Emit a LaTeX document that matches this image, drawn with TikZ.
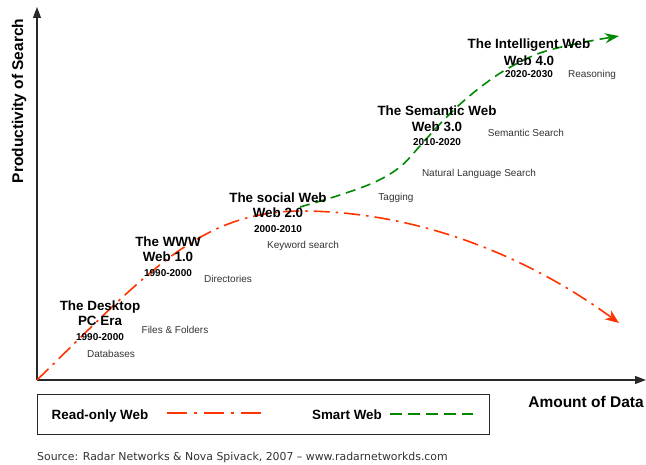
\documentclass[tikz,border=0pt]{standalone}
\usepackage{fontspec}
\setmainfont{Liberation Sans}
\newfontfamily\sourcefont{DejaVu Sans}
\usetikzlibrary{arrows.meta}
\definecolor{webred}{RGB}{255,51,0}
\definecolor{webgreen}{RGB}{0,136,0}
\definecolor{axisgray}{RGB}{40,40,40}
\begin{document}
\begin{tikzpicture}[x=1pt,y=-1pt,
                every node/.style={inner sep=0pt},
                era/.style={anchor=base,font=\fontsize{13.4}{15}\selectfont\bfseries},
                years/.style={anchor=base,font=\fontsize{10}{11}\selectfont\bfseries},
                tool/.style={anchor=base,text=black!80,font=\fontsize{10}{11}\selectfont},
                axislabel/.style={font=\fontsize{15.5}{17}\selectfont\bfseries},
                readonly/.style={webred,line width=1.6pt,dash pattern=on 16pt off 6pt on 2.5pt off 6pt},
                smart/.style={webgreen,line width=1.6pt,dash pattern=on 10pt off 6pt}]
                \useasboundingbox (0,0) rectangle (646,465);
                \coordinate (origin) at (37,380);
                \coordinate (ytip) at (37,7);
                \coordinate (xtip) at (646,380);
                \draw[axisgray,line width=1.1pt,-{Triangle[length=11pt,width=8pt]}] (origin) -- (ytip);
                \draw[axisgray,line width=1.1pt,-{Triangle[length=11pt,width=8pt]}] (origin) -- (xtip);
                \node[axislabel,rotate=90] (yl) at (19,101) {Productivity of Search};
                \node[axislabel] (xl) at (586,402) {Amount of Data};
                \coordinate (peak) at (300,211);
                \coordinate (rend) at (619,323);
                \draw[readonly,-{Stealth[length=14pt,width=11pt]}] (origin)
                    .. controls (150,270) and (200,212) .. (peak)
                    .. controls (420,211) and (530,258) .. (rend);
                \draw[smart,-{Stealth[length=14pt,width=10pt]}] plot[smooth,tension=0.6] coordinates
                    {(300,207) (340,195) (375,182) (400,167) (420,146) (438,126) (458,106) (482,86) (507,69) (540,53) (580,43) (619,36)};
                \node[era] (desktop) at (100,311) {The Desktop};
                \node[era] (pcera) at (100,326) {PC Era};
                \node[years] (desktopyears) at (100,340.6) {1990-2000};
                \node[tool] (databases) at (111,357.6) {Databases};
                \node[tool] (files) at (175,333.6) {Files \& Folders};
                \node[era] (www) at (168,247) {The WWW};
                \node[era] (webone) at (168,262) {Web 1.0};
                \node[years] (wwwyears) at (168,276.6) {1990-2000};
                \node[tool] (directories) at (228,282.6) {Directories};
                \node[era] (social) at (278,203) {The social Web};
                \node[era] (webtwo) at (278,218) {Web 2.0};
                \node[years] (socialyears) at (278,232.6) {2000-2010};
                \node[tool] (keyword) at (303,248.6) {Keyword search};
                \node[tool] (tagging) at (396,200.6) {Tagging};
                \node[tool] (natural) at (479,176.6) {Natural Language Search};
                \node[era] (semantic) at (437,116) {The Semantic Web};
                \node[era] (webthree) at (437,132) {Web 3.0};
                \node[years] (semanticyears) at (437,145.6) {2010-2020};
                \node[tool] (semsearch) at (526,136.6) {Semantic Search};
                \node[era] (intelligent) at (529,49) {The Intelligent Web};
                \node[era] (webfour) at (529,66) {Web 4.0};
                \node[years] (intelligentyears) at (529,77.6) {2020-2030};
                \node[tool] (reasoning) at (592,77.6) {Reasoning};
                \draw[axisgray,line width=1pt] (37,395) rectangle (489,434);
                \node[era] (readlabel) at (100,420) {Read-only Web};
                \coordinate (ra) at (167,413);
                \coordinate (rb) at (263,413);
                \draw[readonly,dash pattern=on 20pt off 7pt on 3pt off 7pt] (ra) -- (rb);
                \node[era] (smartlabel) at (347,420) {Smart Web};
                \coordinate (ga) at (390,414);
                \coordinate (gb) at (473,414);
                \draw[smart,dash pattern=on 12pt off 6pt] (ga) -- (gb);
                \node[anchor=west,text=black!80,font=\sourcefont\fontsize{10.9}{12}\selectfont] (source) at (37,457) {Source: Radar Networks \& Nova Spivack, 2007 – www.radarnetworkds.com};
            \end{tikzpicture}
\end{document}
